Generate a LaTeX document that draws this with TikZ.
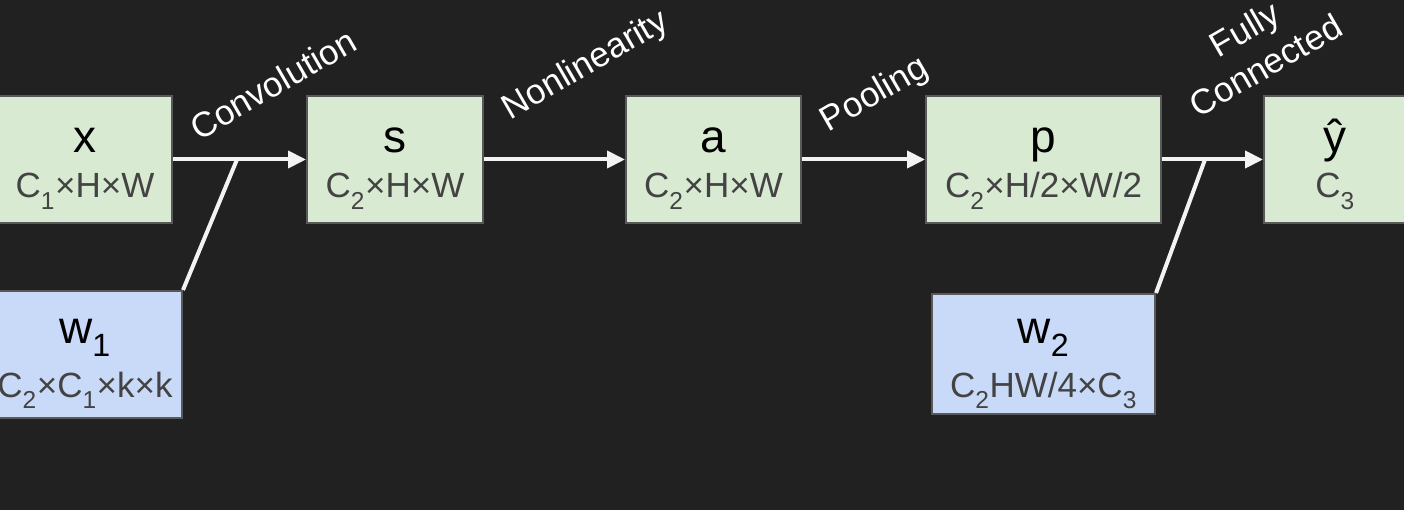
\documentclass[tikz,border=0pt]{standalone}
\usepackage{fontspec}
\setmainfont{Liberation Sans}
\usetikzlibrary{arrows.meta,calc}
\definecolor{bg}{HTML}{212121}
\definecolor{gfill}{HTML}{D9EAD3}
\definecolor{bfill}{HTML}{C9DAF8}
\definecolor{bord}{HTML}{595959}
\definecolor{subc}{HTML}{434343}
\definecolor{lnc}{HTML}{F3F3F3}
\newcommand\lowsub[1]{\raisebox{-0.08em}{\textsubscript{#1}}}
\tikzset{
  gbox/.style={draw=bord, line width=2pt, fill=gfill, inner sep=0pt},
  bbox/.style={draw=bord, line width=2pt, fill=bfill, inner sep=0pt},
  maintext/.style={anchor=base, inner sep=0pt, text=black, font=\fontsize{46}{52}\selectfont},
  subtext/.style={anchor=base, inner sep=0pt, text=subc, font=\fontsize{35}{40}\selectfont},
  optext/.style={inner sep=0pt, text=white, rotate=30, align=center, font=\fontsize{35}{42}\selectfont},
  conn/.style={draw=lnc, line width=4pt},
  arr/.style={conn, -{Triangle[length=18pt,width=17pt]}}
}
\begin{document}
\begin{tikzpicture}[x=1pt,y=-1pt]
\fill[bg] (0,0) rectangle (1404,510);
\useasboundingbox (0,0) rectangle (1404,510);
% boxes
\node[gbox, minimum width=174pt, minimum height=127pt] (x) at (85,159.5) {};
\node[gbox, minimum width=176pt, minimum height=127pt] (s) at (395,159.5) {};
\node[gbox, minimum width=175pt, minimum height=127pt] (a) at (713.5,159.5) {};
\node[gbox, minimum width=235pt, minimum height=127pt] (p) at (1043.5,159.5) {};
\node[gbox, minimum width=144pt, minimum height=127pt] (y) at (1336,159.5) {};
\node[bbox, minimum width=194pt, minimum height=127pt] (w1) at (85,354.5) {};
\node[bbox, minimum width=223pt, minimum height=120pt] (w2) at (1043.5,354) {};
% texts
\node[maintext] (xm) at (85,153) {x};
\node[subtext] (xs) at (85,198) {C\lowsub{1}×H×W};
\node[maintext] (sm) at (395,153) {s};
\node[subtext] (ss) at (395,198) {C\lowsub{2}×H×W};
\node[maintext] (am) at (713.5,153) {a};
\node[subtext] (as) at (713.5,198) {C\lowsub{2}×H×W};
\node[maintext] (pm) at (1043.5,153) {p};
\node[subtext] (ps) at (1043.5,198) {C\lowsub{2}×H/2×W/2};
\node[maintext] (ym) at (1335,153) {ŷ};
\node[subtext] (ys) at (1335,198) {C\lowsub{3}};
\node[maintext] (w1m) at (85,343) {w\textsubscript{1}};
\node[subtext] (w1s) at (85,397) {C\lowsub{2}×C\lowsub{1}×k×k};
\node[maintext] (w2m) at (1043.5,343) {w\textsubscript{2}};
\node[subtext] (w2s) at (1043.5,397) {C\lowsub{2}HW/4×C\lowsub{3}};
% operation labels
\node[optext] (lc) at (273,84) {Convolution};
\node[optext] (ln) at (586,66) {Nonlinearity};
\node[optext] (lp) at (875,95) {Pooling};
\node[optext] (lf) at (1255,47) {Fully\\Connected};
% connectors
\coordinate (j1) at (237,159.5);
\coordinate (j2) at (1205,159.5);
\draw[arr] (x.east) -- (s.west);
\draw[arr] (s.east) -- (a.west);
\draw[arr] (a.east) -- (p.west);
\draw[arr] (p.east) -- (y.west);
\draw[conn] (w1.north east) -- (j1);
\draw[conn] (w2.north east) -- (j2);
\end{tikzpicture}
\end{document}
